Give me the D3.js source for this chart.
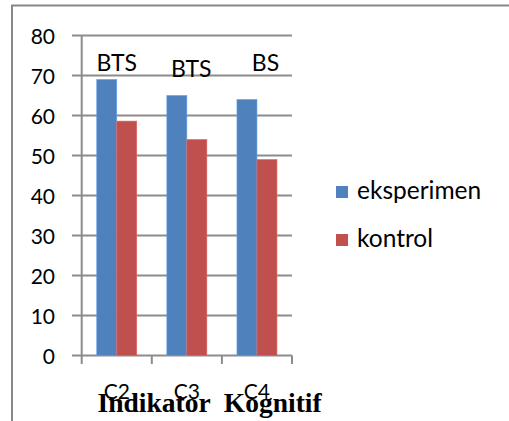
<!DOCTYPE html>
<html>
<head>
<meta charset="utf-8">
<script src="https://cdn.jsdelivr.net/npm/d3@7"></script>
<style>
  body { margin: 0; background: #fff; }
  svg { display: block; }
</style>
</head>
<body>
<div id="chart"></div>
<script>
// chart values
const categories = ["C2", "C3", "C4"];
const seriesNames = ["eksperimen", "kontrol"];
const eksperimen = [69, 65, 64];
const kontrol = [58.6, 54, 49];
const notes = ["BTS", "BTS", "BS"];
const yTicks = [0, 10, 20, 30, 40, 50, 60, 70, 80];
const colors = ["#4F81BD", "#C0504D"];

const width = 509, height = 421;
const svg = d3.select("#chart").append("svg")
  .attr("width", width).attr("height", height);

// outer frame (only top and left visible)
svg.append("path")
  .attr("d", "M12,421V5.5H509")
  .attr("fill", "none").attr("stroke", "#888").attr("stroke-width", 2);

const x = d3.scaleBand().domain(categories).range([81.7, 292]).paddingInner(0).paddingOuter(0);
const y = d3.scaleLinear().domain([0, 80]).range([355.5, 35.5]);
const xSub = d3.scaleBand().domain(seriesNames).range([0, 40]);
const groupOffset = (x.bandwidth() - 40) / 2;

const font = "Lato, 'Open Sans', sans-serif";

// gridlines + y ticks
svg.append("g").selectAll("line").data(yTicks).enter().append("line")
  .attr("x1", 72).attr("x2", 292)
  .attr("y1", (d) => y(d)).attr("y2", (d) => y(d))
  .attr("stroke", "#8c8c8c").attr("stroke-width", 2);

svg.append("g").selectAll("text").data(yTicks).enter().append("text")
  .attr("x", 55).attr("y", (d) => y(d))
  .attr("text-anchor", "end").attr("dominant-baseline", "central")
  .style("font-family", font).style("font-size", "21px").attr("fill", "#000")
  .text((d) => d);

// x axis: vertical axis line and category ticks
svg.append("line")
  .attr("x1", 81.7).attr("x2", 81.7).attr("y1", y(80)).attr("y2", 364)
  .attr("stroke", "#8c8c8c").attr("stroke-width", 2);
const xEdges = categories.map((c) => x(c) + x.bandwidth());
svg.append("g").selectAll("line").data(xEdges).enter().append("line")
  .attr("x1", (d) => d).attr("x2", (d) => d).attr("y1", y(0)).attr("y2", 364)
  .attr("stroke", "#8c8c8c").attr("stroke-width", 2);

// bars
const series = [eksperimen, kontrol];
series.forEach((vals, si) => {
  svg.append("g").selectAll("rect").data(vals).enter().append("rect")
    .attr("x", (d, i) => x(categories[i]) + groupOffset + xSub(seriesNames[si]))
    .attr("width", xSub.bandwidth())
    .attr("y", (d) => y(d))
    .attr("height", (d) => y(0) - y(d))
    .attr("fill", colors[si])
    .attr("stroke", d3.color(colors[si]).brighter(0.6))
    .attr("stroke-width", 0.6);
});

// annotations above groups
const noteDx = [0, 4.5, 8.5];
const noteY = [70.5, 77, 70.5];
svg.append("g").selectAll("text").data(notes).enter().append("text")
  .attr("x", (d, i) => x(categories[i]) + x.bandwidth() / 2 + noteDx[i])
  .attr("y", (d, i) => noteY[i])
  .attr("text-anchor", "middle")
  .style("font-family", font).style("font-size", "23px").attr("fill", "#000")
  .text((d) => d);

// category labels
svg.append("g").selectAll("text").data(categories).enter().append("text")
  .attr("x", (d) => x(d) + x.bandwidth() / 2)
  .attr("y", 398.5)
  .attr("text-anchor", "middle")
  .style("font-family", font).style("font-size", "21px").attr("fill", "#000")
  .text((d) => d);

// axis title
svg.append("text")
  .attr("x", 97.5).attr("y", 412)
  .style("font-family", "'Liberation Serif', 'Times New Roman', serif")
  .style("font-size", "27.5px").style("font-weight", "bold")
  .style("white-space", "pre")
  .attr("fill", "#000")
  .text("Indikator  Kognitif");

// legend
const legend = svg.append("g").selectAll("g").data(seriesNames).enter().append("g")
  .attr("transform", (d, i) => `translate(336, ${186 + i * 48})`);
legend.append("rect").attr("width", 12).attr("height", 12)
  .attr("fill", (d, i) => colors[i]);
legend.append("text").attr("x", 21).attr("y", 12.5)
  .style("font-family", font).style("font-size", "24.5px").attr("fill", "#000")
  .text((d) => d);
</script>
</body>
</html>
